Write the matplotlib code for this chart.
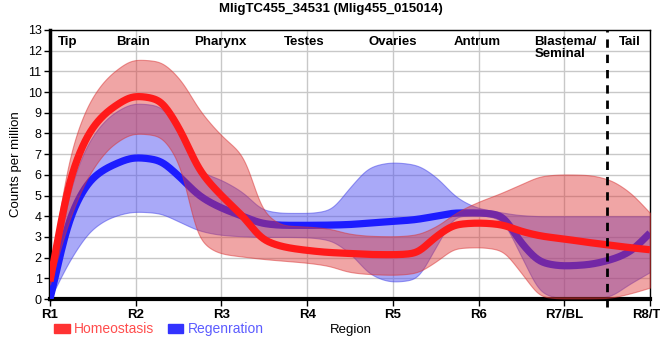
import numpy as np
import matplotlib
matplotlib.use("Agg")
import matplotlib.pyplot as plt
from matplotlib.patches import Patch

plt.rcParams['font.family'] = ['Liberation Sans', 'DejaVu Sans']

# sample positions along the worm (1 = R1 ... 8 = R8/TL)
pos = [1, 1.25, 1.5, 1.75, 2, 2.25, 2.5, 2.75, 3, 3.25, 3.5, 3.75, 4, 4.25, 4.5,
       4.75, 5, 5.25, 5.5, 5.75, 6, 6.25, 6.5, 6.75, 7, 7.25, 7.5, 7.75, 8]

homeo_mean = [0.85, 6.0, 8.3, 9.3, 9.8, 9.65, 8.3, 6.2, 5.0, 4.0, 2.85, 2.5, 2.35, 2.25, 2.2,
              2.15, 2.14, 2.2, 3.0, 3.6, 3.67, 3.6, 3.27, 3.03, 2.9, 2.75, 2.62, 2.49, 2.38]
homeo_hi = [1.3, 7.2, 9.8, 11.0, 11.57, 11.5, 10.7, 9.1, 7.9, 6.9, 4.2, 3.55, 3.5, 3.4, 3.15,
            3.05, 3.03, 3.1, 3.5, 4.2, 4.7, 5.1, 5.55, 5.95, 6.02, 6.0, 5.8, 5.2, 4.16]
homeo_lo = [0.7, 4.1, 6.3, 7.5, 8.0, 7.9, 6.6, 2.85, 2.2, 2.05, 1.93, 1.84, 1.75, 1.6, 1.3,
            1.2, 1.17, 1.25, 1.8, 2.46, 2.5, 2.37, 1.25, 0.1, 0.03, 0.03, 0.05, 0.25, 0.55]

regen_mean = [0.0, 4.1, 5.85, 6.5, 6.83, 6.72, 5.95, 4.97, 4.4, 4.0, 3.64, 3.56, 3.56, 3.57, 3.6,
              3.68, 3.75, 3.83, 4.0, 4.16, 4.16, 4.05, 2.7, 1.75, 1.6, 1.65, 1.85, 2.25, 3.19]
regen_hi = [0.0, 5.5, 7.9, 9.0, 9.45, 9.35, 8.2, 6.2, 5.75, 5.15, 4.3, 4.16, 4.16, 4.3, 5.4,
            6.4, 6.6, 6.5, 5.9, 4.9, 4.4, 4.2, 4.05, 4.0, 4.0, 4.0, 4.0, 4.0, 4.0]
regen_lo = [0.0, 2.0, 3.4, 4.0, 4.22, 4.16, 3.75, 3.3, 3.1, 3.03, 3.0, 3.0, 2.98, 2.85, 2.2,
            1.17, 0.84, 0.95, 2.5, 4.0, 4.05, 3.85, 2.05, 0.27, 0.03, 0.03, 0.1, 0.7, 1.3]

region_ticks = ['R1', 'R2', 'R3', 'R4', 'R5', 'R6', 'R7/BL', 'R8/TL']
organs = ['Tip', 'Brain', 'Pharynx', 'Testes', 'Ovaries', 'Antrum', 'Blastema/\nSeminal', 'Tail']
organ_x = [1.21, 1.97, 2.99, 3.97, 5.0, 5.99, 6.65, 7.77]


def pchip(x, y, xs):
    # monotone cubic so the bands look like smooth splines without overshoot
    x = np.asarray(x, float)
    y = np.asarray(y, float)
    h = np.diff(x)
    d = np.diff(y) / h
    m = np.zeros_like(y)
    for k in range(1, len(y) - 1):
        if d[k - 1] * d[k] > 0:
            w1 = 2 * h[k] + h[k - 1]
            w2 = h[k] + 2 * h[k - 1]
            m[k] = (w1 + w2) / (w1 / d[k - 1] + w2 / d[k])
    m[0] = d[0]
    m[-1] = d[-1]
    idx = np.clip(np.searchsorted(x, xs) - 1, 0, len(x) - 2)
    t = (xs - x[idx]) / h[idx]
    h00 = 2 * t**3 - 3 * t**2 + 1
    h10 = t**3 - 2 * t**2 + t
    h01 = -2 * t**3 + 3 * t**2
    h11 = t**3 - t**2
    return h00 * y[idx] + h10 * h[idx] * m[idx] + h01 * y[idx + 1] + h11 * h[idx] * m[idx + 1]


def smooth_curve(y, xs, sigma=6):
    # round off the kinks between sample points
    c = pchip(pos, y, xs)
    n = 4 * sigma
    k = np.exp(-0.5 * (np.arange(-n, n + 1) / sigma) ** 2)
    k /= k.sum()
    padded = np.pad(c, n, mode='reflect', reflect_type='odd')
    return np.convolve(padded, k, mode='valid')


xs = np.linspace(1, 8, 701)

fig = plt.figure(figsize=(6.6, 3.6), dpi=100)
ax = fig.add_axes([50 / 660, 1 - 299 / 360, 600 / 660, 269 / 360])

ax.set_xlim(1, 8)
ax.set_ylim(0, 13)
ax.set_yticks(range(0, 14))
ax.set_xticks(range(1, 9))
ax.set_xticklabels(region_ticks, fontweight='bold', fontsize=9.5)
ax.tick_params(axis='y', labelsize=9, length=4, width=1, pad=2)
ax.tick_params(axis='x', length=5, width=1, pad=2)
ax.grid(True, color='#c8c8c8', lw=1)
ax.set_axisbelow(True)

for s in ['top', 'right']:
    ax.spines[s].set_linewidth(1)
ax.spines['left'].set_linewidth(2.5)
ax.spines['bottom'].set_linewidth(3)

# regeneration first, homeostasis drawn on top of it
ax.fill_between(xs, smooth_curve(regen_lo, xs), smooth_curve(regen_hi, xs),
                facecolor=(0.30, 0.30, 0.95, 0.48), edgecolor=(0.25, 0.25, 0.9, 0.5), lw=0.8, zorder=2)
ax.plot(xs, smooth_curve(regen_mean, xs), color='#1c1cff', lw=5.2, solid_capstyle='butt', zorder=3)
ax.fill_between(xs, smooth_curve(homeo_lo, xs), smooth_curve(homeo_hi, xs),
                facecolor=(0.87, 0.22, 0.22, 0.45), edgecolor=(0.85, 0.2, 0.2, 0.5), lw=0.8, zorder=4)
ax.plot(xs, smooth_curve(homeo_mean, xs), color='#ff1a1a', lw=5.2, solid_capstyle='butt', zorder=5)

ax.plot([7.5, 7.5], [-0.4, 13], color='black', lw=2, ls=(0, (3, 2.5)), clip_on=False, zorder=6)

for name, x in zip(organs, organ_x):
    ha = 'left' if '\n' in name else 'center'
    ax.text(x, 12.7, name, ha=ha, va='top', fontsize=9.5, fontweight='bold', linespacing=1.0, zorder=7)

ax.set_ylabel('Counts per million', fontsize=9.5, labelpad=4)
fig.text(351 / 660, 1 - 330 / 360, 'Region', ha='center', va='center', fontsize=9.5)
fig.text(331 / 660, 1 - 9 / 360, 'MligTC455_34531 (Mlig455_015014)', ha='center', va='center',
         fontsize=9.5, fontweight='bold')

handles = [Patch(color='#ff3333'), Patch(color='#3333ff')]
leg = fig.legend(handles, ['Homeostasis', 'Regenration'], loc='center left',
                 bbox_to_anchor=(42 / 660, 1 - 329 / 360), ncol=2, frameon=False,
                 fontsize=10, handlelength=1.1, handleheight=0.6, handletextpad=0.3,
                 columnspacing=1.0)
for t, c in zip(leg.get_texts(), ['#ff4d4d', '#5c5cff']):
    t.set_color(c)

fig.savefig('out.png', dpi=100)
